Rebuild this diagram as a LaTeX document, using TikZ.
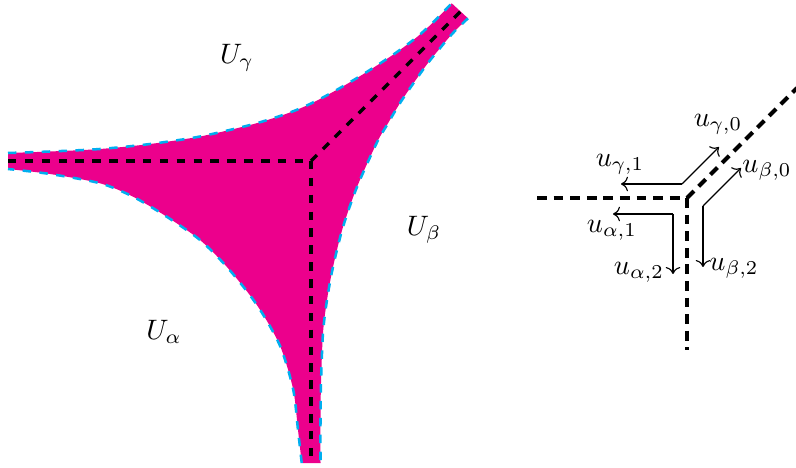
\documentclass[tikz,border=0pt]{standalone}
\usetikzlibrary{arrows.meta}
\definecolor{mag}{RGB}{236,0,140}
\definecolor{cyn}{RGB}{0,174,239}
\begin{document}
\begin{tikzpicture}[x=0.0125cm,y=-0.0125cm,
  axis/.style={black, line width=1.2pt, dash pattern=on 3pt off 3pt},
  axisR/.style={black, line width=1.5pt, dash pattern=on 3.5pt off 2.4pt},
  rim/.style={cyn, line width=0.9pt, dash pattern=on 3pt off 3pt},
  arr/.style={->, line width=0.4pt},
  lab/.style={inner sep=1pt}]
\useasboundingbox (0,0) rectangle (796,468);
% magenta region
\fill[mag]
  plot[smooth] coordinates {(8,153) (50,151.5) (100,149) (150,144) (200,136.5) (250,125) (280,116) (300,108.5) (320,99) (347,84) (373,68) (397,52) (417,37) (434,21.5) (451.7,3.3)}
  -- plot[smooth] coordinates {(468,18.3) (453,33) (438.5,50) (425,67) (402,100) (387,125) (376.7,143) (357,187) (343,227) (333,267) (327,300) (323,333) (321,383) (320.5,420) (320.5,463)}
  -- plot[smooth] coordinates {(301.7,463) (298,430) (293.3,390) (281.7,350) (268.3,323.3) (252,298) (226.7,266.7) (200,240) (166.7,216.7) (133,196.7) (100,183.3) (50,174) (8,169)}
  -- cycle;
\draw[rim] plot[smooth] coordinates {(8,153) (50,151.5) (100,149) (150,144) (200,136.5) (250,125) (280,116) (300,108.5) (320,99) (347,84) (373,68) (397,52) (417,37) (434,21.5) (451.7,3.3)};
\draw[rim] plot[smooth] coordinates {(468,18.3) (453,33) (438.5,50) (425,67) (402,100) (387,125) (376.7,143) (357,187) (343,227) (333,267) (327,300) (323,333) (321,383) (320.5,420) (320.5,463)};
\draw[rim] plot[smooth] coordinates {(301.7,463) (298,430) (293.3,390) (281.7,350) (268.3,323.3) (252,298) (226.7,266.7) (200,240) (166.7,216.7) (133,196.7) (100,183.3) (50,174) (8,169)};
% left axes
\coordinate (C) at (311,161);
\coordinate (L) at (8,161);
\coordinate (B) at (311,463);
\coordinate (T) at (461,11);
\draw[axis] (L) -- (C);
\draw[axis] (C) -- (B);
\draw[axis] (C) -- (T);
% region labels
\node (Ug) at (237,58) {$U_\gamma$};
\node (Ub) at (424,230) {$U_\beta$};
\node (Ua) at (164,332) {$U_\alpha$};
% right axes
\coordinate (C2) at (687,198);
\coordinate (L2) at (537,198);
\coordinate (B2) at (687,350);
\coordinate (T2) at (797,88);
\draw[axisR] (L2) -- (C2);
\draw[axisR] (C2) -- (B2);
\draw[axisR] (C2) -- (T2);
% arrows
\coordinate (g) at (682,184);
\coordinate (g1) at (621,184);
\coordinate (g0) at (719,147);
\coordinate (b) at (703,206);
\coordinate (b0) at (741,168);
\coordinate (b2) at (703,267);
\coordinate (a) at (673,214);
\coordinate (a1) at (613,214);
\coordinate (a2) at (673,274);
\draw[arr] (g) -- (g1);
\draw[arr] (g) -- (g0);
\draw[arr] (b) -- (b0);
\draw[arr] (b) -- (b2);
\draw[arr] (a) -- (a1);
\draw[arr] (a) -- (a2);
\node[lab] (ug1) at (620,164) {$u_{\gamma,1}$};
\node[lab] (ug0) at (718,124) {$u_{\gamma,0}$};
\node[lab] (ub0) at (767,170) {$u_{\beta,0}$};
\node[lab] (ub2) at (734,268) {$u_{\beta,2}$};
\node[lab] (ua1) at (612,230) {$u_{\alpha,1}$};
\node[lab] (ua2) at (639,272) {$u_{\alpha,2}$};
\end{tikzpicture}
\end{document}
